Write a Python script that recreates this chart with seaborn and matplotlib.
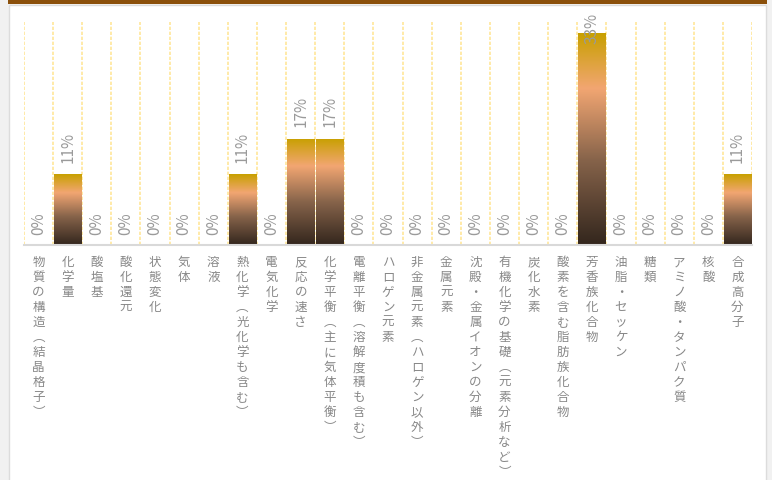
import numpy as np
import pandas as pd
import matplotlib
matplotlib.use("Agg")
import matplotlib.pyplot as plt
from matplotlib.patches import Rectangle
from matplotlib.colors import LinearSegmentedColormap
import seaborn as sns

categories = [
    "物質の構造（結晶格子）", "化学量", "酸塩基", "酸化還元", "状態変化", "気体", "溶液",
    "熱化学（光化学も含む）", "電気化学", "反応の速さ", "化学平衡（主に気体平衡）",
    "電離平衡（溶解度積も含む）", "ハロゲン元素", "非金属元素（ハロゲン以外）", "金属元素",
    "沈殿・金属イオンの分離", "有機化学の基礎（元素分析など）", "炭化水素",
    "酸素を含む脂肪族化合物", "芳香族化合物", "油脂・セッケン", "糖類",
    "アミノ酸・タンパク質", "核酸", "合成高分子",
]
values = [0, 11.1, 0, 0, 0, 0, 0, 11.1, 0, 16.7, 16.7, 0, 0, 0, 0, 0, 0, 0, 0, 33.3,
          0, 0, 0, 0, 11.1]
value_labels = ["0%", "11%", "0%", "0%", "0%", "0%", "0%", "11%", "0%", "17%", "17%", "0%",
                "0%", "0%", "0%", "0%", "0%", "0%", "0%", "33%", "0%", "0%", "0%", "0%", "11%"]

sns.set_theme(style="white")
plt.rcParams["font.family"] = ["Noto Sans CJK JP", "DejaVu Sans"]

W, H = 772, 480
fig = plt.figure(figsize=(W / 100, H / 100), dpi=100, facecolor="#f1f1f1")

def px_rect(x, y, w, h, **kw):
    fig.add_artist(Rectangle((x / W, 1 - (y + h) / H), w / W, h / H,
                             transform=fig.transFigure, **kw))

px_rect(9, 5, 757, 480, facecolor="white", edgecolor="#dcdcdc", linewidth=1.0, zorder=0)
px_rect(8, 0, 759, 4, facecolor="#8b500b", edgecolor="none", zorder=1)

left, right, top, bottom = 24, 752, 22, 245
ax = fig.add_axes([left / W, 1 - bottom / H, (right - left) / W, (bottom - top) / H])
ax.set_facecolor("none")

df = pd.DataFrame({"cat": categories, "val": values})
sns.barplot(data=df, x="cat", y="val", ax=ax, width=0.94, color="#c99e00",
            saturation=1, zorder=2)

ymax = 35.06
cmap = LinearSegmentedColormap.from_list(
    "grad", [(0.0, "#33261d"), (0.4, "#86634a"), (0.74, "#f2a672"), (1.0, "#c8a000")])
grad = np.linspace(0, 1, 256).reshape(-1, 1)
for p in ax.patches:
    h = p.get_height()
    if h <= 0:
        continue
    x0 = p.get_x()
    w = p.get_width()
    p.set_facecolor("none")
    p.set_edgecolor("none")
    im = ax.imshow(grad, cmap=cmap, extent=(x0, x0 + w, 0, h), origin="lower",
                   aspect="auto", zorder=2, interpolation="bilinear")
    im.set_clip_path(p)

ax.vlines(np.arange(-0.5, len(categories), 1), 0, ymax, colors="#ffe699",
          linestyles=(0, (2, 1)), linewidth=1.2, zorder=1)

for i, (v, lab) in enumerate(zip(values, value_labels)):
    if v + 4 > ymax:
        ax.annotate(lab, (i, v), xytext=(0, -7.5), textcoords="offset points",
                    rotation=90, ha="center", va="bottom", color="#9a9a9a", fontsize=11,
                    zorder=5, annotation_clip=False)
    else:
        off = 7.0 if v == 0 else 8.5
        ax.annotate(lab, (i, v), xytext=(0, off), textcoords="offset points",
                    rotation=90, ha="center", va="bottom", color="#9a9a9a", fontsize=11,
                    zorder=5)

ax.set_xlim(-0.5, len(categories) - 0.5)
ax.set_ylim(0, ymax)

def vertical(s):
    s = s.replace("（", "︵").replace("）", "︶")
    return "\n".join(s)

ax.set_xticks(range(len(categories)))
ax.set_xticklabels([vertical(c) for c in categories], rotation=0, va="top",
                   ha="center", color="#888888", fontsize=9, linespacing=1.2)
ax.tick_params(axis="x", length=0, pad=8)
ax.set_yticks([])
ax.set_xlabel("")
ax.set_ylabel("")
for s in ["top", "left", "right"]:
    ax.spines[s].set_visible(False)
ax.spines["bottom"].set_color("#d9d9d9")
ax.spines["bottom"].set_linewidth(1.5)
ax.spines["bottom"].set_zorder(6)

fig.savefig("out.png", dpi=100, facecolor=fig.get_facecolor())
